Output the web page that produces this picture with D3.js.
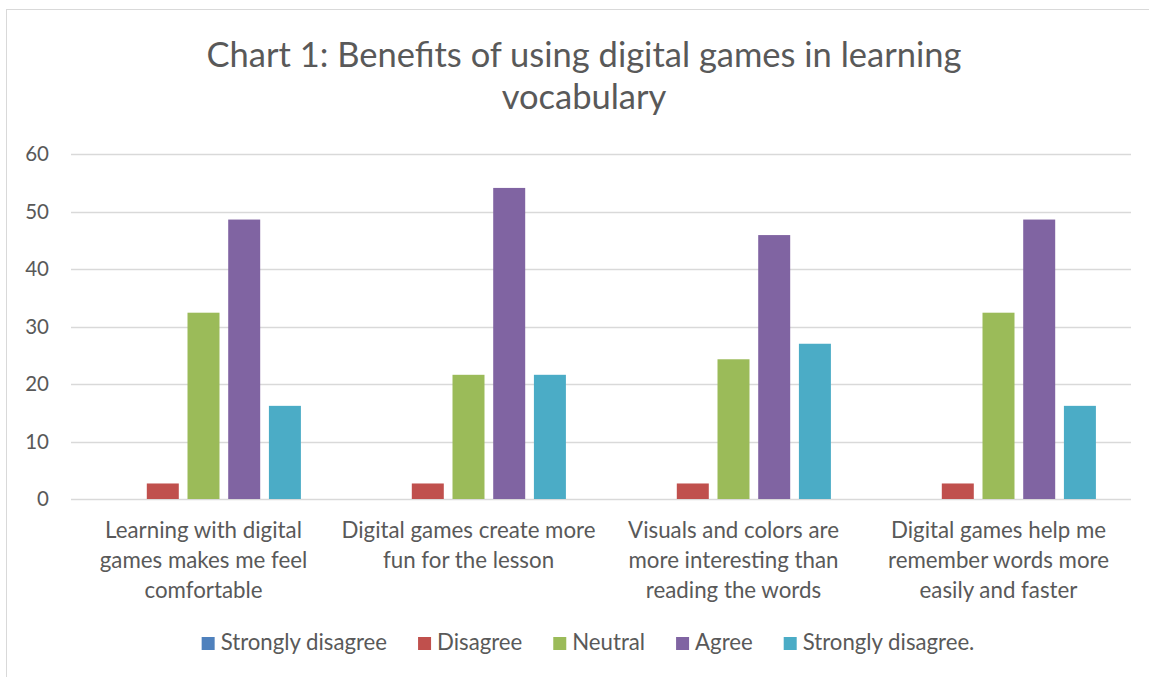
<!DOCTYPE html>
<html>
<head>
<meta charset="utf-8">
<script src="https://cdn.jsdelivr.net/npm/d3@7"></script>
<style>
  body { margin: 0; background: #fff; }
  text { font-family: Lato, "Open Sans", sans-serif; fill: #595959; }
</style>
</head>
<body>
<svg id="chart" width="1149" height="677"></svg>
<script>
// chart data
const categories = [
  "Learning with digital\ngames makes me feel\ncomfortable",
  "Digital games create more\nfun for the lesson",
  "Visuals and colors are\nmore interesting than\nreading the words",
  "Digital games help me\nremember words more\neasily and faster"
];
const seriesNames = ["Strongly disagree", "Disagree", "Neutral", "Agree", "Strongly disagree."];
const stronglyDisagree = [0, 0, 0, 0];
const disagree = [2.7, 2.7, 2.7, 2.7];
const neutral = [32.4, 21.6, 24.3, 32.4];
const agree = [48.6, 54.1, 45.9, 48.6];
const stronglyDisagree2 = [16.2, 21.6, 27.0, 16.2];
const yTicks = [0, 10, 20, 30, 40, 50, 60];
const colors = ["#4F81BD", "#C0504D", "#9BBB59", "#8064A2", "#4BACC6"];
const title = ["Chart 1: Benefits of using digital games in learning", "vocabulary"];

const allSeries = [stronglyDisagree, disagree, neutral, agree, stronglyDisagree2];
const rows = categories.map((c, i) => {
  const r = { cat: c };
  seriesNames.forEach((s, j) => r[s] = allSeries[j][i]);
  return r;
});

const svg = d3.select("#chart");
const margin = { left: 71, right: 18, top: 154, bottom: 178 };
const W = 1149, H = 677;

// chart border
svg.append("rect")
  .attr("x", 6.5).attr("y", 9.5)
  .attr("width", W + 10).attr("height", H + 10)
  .attr("fill", "none").attr("stroke", "#D9D9D9").attr("stroke-width", 1);

// title
svg.append("text")
  .attr("text-anchor", "middle")
  .style("font-size", "34.5px")
  .selectAll("tspan")
  .data(title)
  .join("tspan")
  .attr("x", 584)
  .attr("y", (d, i) => 67 + i * 42)
  .text(d => d);

const x0 = d3.scaleBand()
  .domain(categories)
  .range([margin.left, W - margin.right]);

const groupW = x0.bandwidth() * 0.768;
const x1 = d3.scaleBand()
  .domain(seriesNames)
  .range([(x0.bandwidth() - groupW) / 2, (x0.bandwidth() + groupW) / 2])
  .paddingInner(0.214)
  .paddingOuter(0.107);

const y = d3.scaleLinear()
  .domain([0, 60])
  .range([H - margin.bottom, margin.top]);

// gridlines
svg.append("g")
  .selectAll("line")
  .data(yTicks)
  .join("line")
  .attr("x1", margin.left).attr("x2", W - margin.right)
  .attr("y1", d => Math.round(y(d)) + 0.5).attr("y2", d => Math.round(y(d)) + 0.5)
  .attr("stroke", "#D9D9D9").attr("stroke-width", 1.3);

// y axis labels
svg.append("g")
  .selectAll("text")
  .data(yTicks)
  .join("text")
  .attr("x", margin.left - 22)
  .attr("y", d => y(d))
  .attr("dy", "0.35em")
  .attr("text-anchor", "end")
  .style("font-size", "20.5px")
  .text(d => d);

// bars
svg.append("g")
  .selectAll("g")
  .data(rows)
  .join("g")
  .attr("transform", d => `translate(${x0(d.cat)},0)`)
  .selectAll("rect")
  .data(d => seriesNames.map((s, j) => ({ key: s, value: d[s], color: colors[j] })))
  .join("rect")
  .attr("x", d => x1(d.key))
  .attr("width", x1.bandwidth())
  .attr("y", d => y(d.value))
  .attr("height", d => y(0) - y(d.value))
  .attr("fill", d => d.color);

// category labels
svg.append("g")
  .selectAll("text")
  .data(categories)
  .join("text")
  .attr("text-anchor", "middle")
  .style("font-size", "22.3px")
  .each(function(d) {
    d3.select(this).selectAll("tspan")
      .data(d.split("\n"))
      .join("tspan")
      .attr("x", x0(d) + x0.bandwidth() / 2)
      .attr("y", (t, i) => 538 + i * 30)
      .text(t => t);
  });

// legend
const legend = svg.append("g");
const items = legend.selectAll("g")
  .data(seriesNames)
  .join("g");
items.append("rect")
  .attr("width", 13).attr("height", 13)
  .attr("y", -13)
  .attr("fill", (d, i) => colors[i]);
items.append("text")
  .attr("x", 19)
  .style("font-size", "22.2px")
  .text(d => d);
let cx = 0;
items.each(function() {
  const w = this.querySelector("text").getComputedTextLength();
  d3.select(this).attr("transform", `translate(${cx},0)`);
  cx += 19 + w + 31;
});
const legendW = cx - 31;
legend.attr("transform", `translate(${588 - legendW / 2},650)`);
</script>
</body>
</html>
